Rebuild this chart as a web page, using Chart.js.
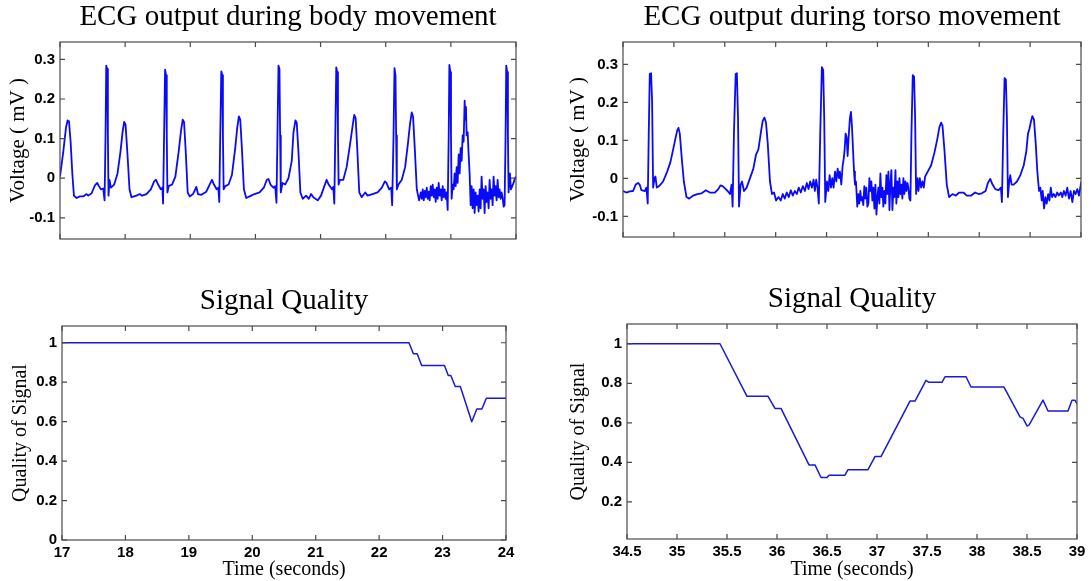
<!DOCTYPE html>
<html>
<head>
<meta charset="utf-8">
<script src="https://cdn.jsdelivr.net/npm/chart.js@4.4.1/dist/chart.umd.min.js"></script>
<style>
  html, body { margin: 0; padding: 0; background: #fff; width: 1091px; height: 581px; overflow: hidden; }
  canvas { position: absolute; }
</style>
</head>
<body>
<canvas id="ecgBody"></canvas>
<canvas id="ecgTorso"></canvas>
<canvas id="qualBody"></canvas>
<canvas id="qualTorso"></canvas>
<script>
// ECG trace recorded during body movement: [time (s), voltage (mV)]
const bodyEcg = [
  [17.000,0.004],[17.051,0.068],[17.092,0.128],[17.117,0.146],[17.138,0.144],[17.163,0.092],[17.189,0.012],[17.214,-0.044],
  [17.255,-0.050],[17.306,-0.046],[17.357,-0.046],[17.408,-0.040],[17.434,-0.044],[17.485,-0.038],[17.536,-0.018],[17.572,-0.012],
  [17.597,-0.020],[17.628,-0.028],[17.664,-0.026],[17.684,-0.056],[17.699,0.108],[17.710,0.284],[17.725,0.276],[17.735,0.108],
  [17.745,-0.044],[17.760,-0.004],[17.781,-0.024],[17.832,-0.016],[17.883,0.012],[17.929,0.068],[17.960,0.116],[17.985,0.142],
  [18.006,0.136],[18.036,0.060],[18.067,-0.028],[18.097,-0.048],[18.174,-0.044],[18.225,-0.040],[18.261,-0.044],[18.327,-0.040],
  [18.394,-0.028],[18.445,-0.008],[18.475,-0.004],[18.506,-0.016],[18.547,-0.028],[18.572,-0.024],[18.582,-0.064],[18.598,0.108],
  [18.613,0.274],[18.628,0.260],[18.639,0.108],[18.649,-0.036],[18.669,-0.020],[18.720,-0.016],[18.771,0.004],[18.822,0.068],
  [18.858,0.120],[18.884,0.148],[18.904,0.142],[18.930,0.068],[18.960,-0.036],[18.991,-0.046],[19.042,-0.040],[19.093,-0.022],
  [19.119,-0.040],[19.170,-0.042],[19.246,-0.034],[19.297,-0.016],[19.333,-0.004],[19.364,-0.016],[19.404,-0.028],[19.430,-0.024],
  [19.445,-0.060],[19.460,0.108],[19.476,0.270],[19.491,0.260],[19.501,0.108],[19.512,-0.028],[19.537,-0.020],[19.588,-0.016],
  [19.639,0.008],[19.690,0.076],[19.721,0.128],[19.746,0.156],[19.767,0.148],[19.792,0.076],[19.823,-0.028],[19.859,-0.050],
  [19.935,-0.044],[19.986,-0.040],[20.063,-0.036],[20.129,-0.024],[20.175,-0.004],[20.201,-0.002],[20.231,-0.016],[20.277,-0.024],
  [20.303,-0.020],[20.323,-0.062],[20.338,0.108],[20.354,0.284],[20.369,0.276],[20.379,0.108],[20.389,-0.036],[20.415,-0.012],
  [20.456,-0.016],[20.507,0.000],[20.558,0.044],[20.584,0.116],[20.614,0.146],[20.634,0.140],[20.660,0.068],[20.690,-0.036],
  [20.726,-0.052],[20.777,-0.044],[20.818,-0.052],[20.854,-0.040],[20.889,-0.048],[20.956,-0.056],[21.007,-0.044],[21.058,-0.020],
  [21.093,-0.004],[21.124,-0.016],[21.175,-0.028],[21.195,-0.022],[21.211,-0.064],[21.226,0.108],[21.241,0.280],[21.256,0.268],
  [21.267,0.108],[21.277,-0.016],[21.297,-0.004],[21.349,-0.004],[21.400,0.028],[21.451,0.084],[21.492,0.132],[21.517,0.160],
  [21.538,0.152],[21.563,0.076],[21.594,-0.036],[21.630,-0.048],[21.686,-0.036],[21.722,-0.044],[21.798,-0.040],[21.875,-0.036],
  [21.941,-0.024],[21.987,-0.008],[22.012,-0.012],[22.053,-0.028],[22.084,-0.024],[22.099,-0.068],[22.120,0.108],[22.135,0.278],
  [22.150,0.260],[22.160,0.108],[22.171,-0.028],[22.196,-0.016],[22.247,-0.004],[22.298,0.028],[22.344,0.092],[22.375,0.140],
  [22.400,0.166],[22.420,0.156],[22.446,0.076],[22.477,-0.028],[22.512,-0.056],[22.538,-0.036],[22.553,-0.052],[22.568,-0.028],
  [22.584,-0.056],[22.599,-0.032],[22.614,-0.048],[22.630,-0.024],[22.645,-0.052],[22.660,-0.034],[22.675,-0.056],[22.691,-0.020],
  [22.706,-0.044],[22.721,-0.016],[22.737,-0.048],[22.752,-0.028],[22.767,-0.060],[22.783,-0.024],[22.798,-0.052],[22.813,-0.012],
  [22.829,-0.044],[22.844,-0.028],[22.859,-0.056],[22.875,-0.020],[22.890,-0.048],[22.905,-0.028],[22.921,-0.052],[22.936,-0.036],
  [22.951,-0.080],[22.967,0.108],[22.977,0.286],[22.992,0.268],[23.002,0.108],[23.012,-0.052],[23.028,-0.016],[23.043,-0.028],
  [23.058,0.012],[23.074,-0.020],[23.089,0.028],[23.104,-0.012],[23.120,0.060],[23.135,0.012],[23.150,0.076],[23.166,0.044],
  [23.181,0.108],[23.196,0.092],[23.212,0.196],[23.222,0.148],[23.232,0.180],[23.242,0.108],[23.258,0.116],[23.273,0.060],
  [23.288,0.012],[23.304,-0.068],[23.319,-0.020],[23.334,-0.076],[23.350,-0.028],[23.365,-0.088],[23.380,-0.036],[23.396,-0.068],
  [23.411,-0.044],[23.426,-0.084],[23.442,-0.028],[23.457,-0.076],[23.472,0.004],[23.488,-0.052],[23.503,-0.028],[23.518,-0.088],
  [23.534,-0.020],[23.549,-0.060],[23.564,-0.036],[23.580,-0.076],[23.595,-0.004],[23.610,-0.052],[23.626,-0.028],[23.641,-0.068],
  [23.656,0.004],[23.672,-0.044],[23.687,-0.020],[23.702,-0.056],[23.718,-0.004],[23.733,-0.048],[23.748,-0.028],[23.764,-0.052],
  [23.779,-0.036],[23.794,-0.048],[23.810,-0.072],[23.825,-0.068],[23.840,0.108],[23.850,0.284],[23.866,0.268],[23.876,0.108],
  [23.886,-0.036],[23.907,0.012],[23.922,-0.028],[23.942,-0.020],[23.963,-0.012],[23.983,0.000],[24.000,0.004]
];

// ECG trace recorded during torso movement: [time (s), voltage (mV)]
const torsoEcg = [
  [34.500,-0.033],[34.533,-0.037],[34.566,-0.034],[34.599,-0.033],[34.625,-0.016],[34.648,-0.012],[34.664,-0.016],[34.681,-0.031],
  [34.714,-0.033],[34.730,-0.024],[34.743,-0.066],[34.753,0.118],[34.763,0.275],[34.776,0.277],[34.786,0.201],[34.796,-0.024],
  [34.810,0.001],[34.819,0.005],[34.832,-0.024],[34.855,-0.020],[34.894,-0.008],[34.934,0.018],[34.966,0.043],[34.986,0.068],
  [35.012,0.101],[35.032,0.126],[35.045,0.133],[35.058,0.118],[35.078,0.051],[35.098,-0.008],[35.124,-0.049],[35.150,-0.053],
  [35.190,-0.045],[35.229,-0.041],[35.272,-0.039],[35.305,-0.033],[35.312,-0.031],[35.354,-0.037],[35.403,-0.037],[35.436,-0.028],
  [35.459,-0.018],[35.479,-0.020],[35.502,-0.026],[35.528,-0.033],[35.551,-0.041],[35.567,-0.016],[35.577,-0.074],[35.590,0.118],
  [35.607,0.275],[35.619,0.277],[35.630,0.160],[35.640,-0.074],[35.656,-0.016],[35.669,-0.008],[35.689,-0.033],[35.715,-0.024],
  [35.748,0.001],[35.781,0.026],[35.807,0.063],[35.830,0.076],[35.853,0.118],[35.872,0.151],[35.889,0.160],[35.905,0.147],
  [35.922,0.093],[35.944,-0.008],[35.964,-0.041],[35.984,-0.037],[36.004,-0.058],[36.027,-0.049],[36.050,-0.058],[36.070,-0.041],
  [36.089,-0.053],[36.109,-0.037],[36.129,-0.049],[36.149,-0.031],[36.168,-0.045],[36.188,-0.033],[36.208,-0.041],[36.227,-0.024],
  [36.247,-0.037],[36.267,-0.020],[36.287,-0.033],[36.306,-0.012],[36.323,-0.028],[36.339,-0.008],[36.356,-0.024],[36.372,-0.003],
  [36.385,-0.033],[36.398,-0.003],[36.411,-0.024],[36.424,-0.066],[36.438,0.118],[36.454,0.293],[36.467,0.285],[36.477,0.160],
  [36.487,-0.062],[36.504,-0.008],[36.517,-0.033],[36.530,0.009],[36.543,-0.024],[36.556,0.001],[36.569,-0.024],[36.583,0.018],
  [36.596,-0.008],[36.609,0.026],[36.622,0.001],[36.631,0.018],[36.645,-0.016],[36.658,0.034],[36.668,0.051],[36.678,0.076],
  [36.687,0.118],[36.697,0.109],[36.707,0.059],[36.717,0.109],[36.730,0.160],[36.740,0.175],[36.750,0.135],[36.760,0.076],
  [36.770,0.018],[36.779,-0.016],[36.789,-0.008],[36.802,-0.074],[36.812,-0.041],[36.822,-0.066],[36.832,-0.033],[36.842,-0.058],
  [36.852,-0.049],[36.861,-0.070],[36.871,-0.020],[36.881,-0.053],[36.891,-0.024],[36.901,-0.074],[36.911,-0.066],[36.921,0.001],
  [36.930,-0.033],[36.940,-0.008],[36.950,-0.058],[36.960,-0.024],[36.970,-0.079],[36.980,-0.016],[36.990,-0.095],[37.000,-0.049],
  [37.009,-0.024],[37.019,-0.066],[37.029,0.013],[37.039,-0.049],[37.049,-0.024],[37.058,-0.074],[37.068,-0.033],[37.078,-0.066],
  [37.088,0.009],[37.098,-0.041],[37.108,0.018],[37.118,-0.083],[37.127,-0.016],[37.137,0.022],[37.147,-0.083],[37.157,-0.024],
  [37.167,-0.049],[37.177,0.022],[37.186,-0.066],[37.196,-0.008],[37.206,-0.049],[37.216,0.001],[37.226,-0.041],[37.236,-0.016],
  [37.245,-0.053],[37.255,0.001],[37.265,-0.041],[37.275,-0.008],[37.285,-0.033],[37.295,-0.012],[37.304,-0.024],[37.314,-0.053],
  [37.324,-0.058],[37.334,0.118],[37.347,0.272],[37.360,0.268],[37.370,0.160],[37.380,-0.041],[37.393,0.001],[37.403,-0.033],
  [37.416,0.001],[37.429,-0.024],[37.442,-0.008],[37.455,-0.024],[37.468,0.005],[37.494,0.018],[37.527,0.034],[37.560,0.068],
  [37.586,0.101],[37.609,0.135],[37.626,0.147],[37.639,0.139],[37.658,0.076],[37.681,-0.016],[37.704,-0.049],[37.737,-0.041],
  [37.770,-0.045],[37.803,-0.037],[37.845,-0.037],[37.878,-0.045],[37.921,-0.045],[37.960,-0.037],[37.993,-0.041],[38.026,-0.039],
  [38.063,-0.033],[38.085,-0.012],[38.108,-0.001],[38.131,-0.016],[38.158,-0.028],[38.190,-0.031],[38.213,-0.024],[38.223,-0.062],
  [38.236,0.118],[38.249,0.264],[38.262,0.260],[38.272,0.160],[38.282,-0.049],[38.295,-0.008],[38.305,0.009],[38.318,-0.016],
  [38.338,-0.016],[38.371,-0.008],[38.404,0.009],[38.437,0.034],[38.463,0.072],[38.479,0.118],[38.493,0.130],[38.506,0.147],
  [38.522,0.164],[38.538,0.155],[38.555,0.093],[38.571,0.018],[38.588,-0.033],[38.601,-0.024],[38.614,-0.058],[38.624,-0.033],
  [38.637,-0.079],[38.650,-0.049],[38.663,-0.066],[38.677,-0.041],[38.690,-0.058],[38.703,-0.024],[38.716,-0.049],[38.733,-0.041],
  [38.749,-0.049],[38.766,-0.037],[38.782,-0.045],[38.802,-0.037],[38.816,-0.049],[38.832,-0.033],[38.849,-0.045],[38.865,-0.024],
  [38.882,-0.053],[38.898,-0.033],[38.915,-0.062],[38.931,-0.033],[38.947,-0.041],[38.964,-0.028],[38.980,-0.045],[38.993,-0.024],
  [39.003,-0.008]
];

// Signal quality index over time: [time (s), quality]
const bodyQuality = [
  [17.00,1.000],[22.47,1.000],[22.54,0.944],[22.60,0.944],[22.67,0.885],[23.03,0.885],[23.09,0.834],[23.13,0.834],
  [23.20,0.778],[23.28,0.778],[23.46,0.600],[23.54,0.664],[23.62,0.664],[23.69,0.719],[24.00,0.719]
];
const torsoQuality = [
  [34.50,1.000],[35.43,1.000],[35.70,0.734],[35.91,0.734],[35.98,0.673],[36.04,0.673],[36.32,0.387],[36.38,0.387],
  [36.44,0.323],[36.50,0.323],[36.52,0.335],[36.68,0.335],[36.71,0.363],[36.91,0.363],[36.98,0.429],[37.04,0.429],
  [37.33,0.710],[37.38,0.710],[37.49,0.815],[37.52,0.805],[37.65,0.805],[37.68,0.833],[37.89,0.833],[37.94,0.781],
  [38.27,0.781],[38.43,0.630],[38.46,0.622],[38.50,0.584],[38.52,0.588],[38.66,0.715],[38.71,0.660],[38.91,0.660],
  [38.95,0.714],[38.98,0.714],[39.00,0.697]
];

// Tick values and their labels
const bodyTimeTicks   = [17, 18, 19, 20, 21, 22, 23, 24];
const bodyTimeLabels  = ['17', '18', '19', '20', '21', '22', '23', '24'];
const torsoTimeTicks  = [34.5, 35, 35.5, 36, 36.5, 37, 37.5, 38, 38.5, 39];
const torsoTimeLabels = ['34.5', '35', '35.5', '36', '36.5', '37', '37.5', '38', '38.5', '39'];
const voltTicks       = [-0.1, 0, 0.1, 0.2, 0.3];
const voltLabels      = ['-0.1', '0', '0.1', '0.2', '0.3'];
const bodyQualTicks   = [0, 0.2, 0.4, 0.6, 0.8, 1];
const bodyQualLabels  = ['0', '0.2', '0.4', '0.6', '0.8', '1'];
const torsoQualTicks  = [0.2, 0.4, 0.6, 0.8, 1];
const torsoQualLabels = ['0.2', '0.4', '0.6', '0.8', '1'];

const SERIF = "'Liberation Serif', 'Times New Roman', serif";
const SANS = "'Liberation Sans', Arial, sans-serif";
const FRAME = '#4a4a4a';

// Boxed axes with short inward tick marks on all four sides
const framePlugin = {
  id: 'frame',
  afterDatasetsDraw(chart) {
    const { ctx, chartArea: a, scales: { x, y } } = chart;
    const len = 5;
    ctx.save();
    ctx.strokeStyle = FRAME;
    ctx.lineWidth = 1.2;
    ctx.strokeRect(a.left, a.top, a.right - a.left, a.bottom - a.top);
    ctx.beginPath();
    x.ticks.forEach(t => {
      const px = x.getPixelForValue(t.value);
      ctx.moveTo(px, a.bottom); ctx.lineTo(px, a.bottom - len);
      ctx.moveTo(px, a.top); ctx.lineTo(px, a.top + len);
    });
    y.ticks.forEach(t => {
      const py = y.getPixelForValue(t.value);
      ctx.moveTo(a.left, py); ctx.lineTo(a.left + len, py);
      ctx.moveTo(a.right, py); ctx.lineTo(a.right - len, py);
    });
    ctx.stroke();
    ctx.restore();
  }
};

function panel(p) {
  const cv = document.getElementById(p.id);
  cv.width = p.box.w; cv.height = p.box.h;
  cv.style.left = p.box.x + 'px'; cv.style.top = p.box.y + 'px';
  cv.style.width = p.box.w + 'px'; cv.style.height = p.box.h + 'px';
  const tickFont = { family: SANS, size: 15, weight: 'bold' };
  const labelFont = { family: SERIF, size: p.yTitleSize || 20, weight: 'normal', lineHeight: 1 };
  const xLabelFont = { family: SERIF, size: 20, weight: 'normal', lineHeight: 1 };
  return new Chart(cv, {
    type: 'line',
    data: {
      datasets: [{
        data: p.points.map(([t, v]) => ({ x: t, y: v })),
        borderColor: p.color,
        borderWidth: p.lineWidth,
        pointRadius: 0,
        tension: 0,
        fill: false,
        borderJoinStyle: 'round'
      }]
    },
    options: {
      responsive: false,
      animation: false,
      devicePixelRatio: 1,
      events: [],
      layout: { padding: { left: 0, top: 0, right: p.rightPad, bottom: 0 } },
      plugins: {
        legend: { display: false },
        tooltip: { enabled: false },
        title: {
          display: true,
          text: p.title,
          fullSize: false,
          color: '#000',
          font: { family: SERIF, size: 29, weight: 'normal', lineHeight: 1 },
          padding: { top: 1, bottom: 10 }
        }
      },
      scales: {
        x: {
          type: 'linear',
          min: p.xMin, max: p.xMax,
          afterBuildTicks: s => { s.ticks = p.xTicks.map(v => ({ value: v })); },
          afterFit: s => { s.height = p.xH; },
          grid: { display: false, drawTicks: false },
          border: { display: false },
          ticks: {
            display: p.showX,
            color: '#000',
            font: tickFont,
            padding: 4,
            maxRotation: 0,
            autoSkip: false,
            callback: (v, i) => p.xLabels[i]
          },
          title: {
            display: !!p.xTitle,
            text: p.xTitle || '',
            color: '#000',
            font: xLabelFont,
            padding: { top: 0, bottom: 1 }
          }
        },
        y: {
          type: 'linear',
          min: p.yMin, max: p.yMax,
          afterBuildTicks: s => { s.ticks = p.yTicks.map(v => ({ value: v })); },
          afterFit: s => { s.width = 60; },
          grid: { display: false, drawTicks: false },
          border: { display: false },
          ticks: {
            color: '#000',
            font: tickFont,
            padding: 5,
            autoSkip: false,
            callback: (v, i) => p.yLabels[i]
          },
          title: {
            display: true,
            text: p.yTitle,
            color: '#000',
            font: labelFont,
            padding: { top: p.yTitlePad, bottom: 0 }
          }
        }
      }
    },
    plugins: [framePlugin]
  });
}

const ECG_BLUE = 'rgb(10,10,250)';
const QUAL_BLUE = 'rgb(25,25,215)';

panel({
  id: 'ecgBody', box: { x: 0, y: 2, w: 524, h: 251 }, rightPad: 8, xH: 4,
  title: 'ECG output during body movement', points: bodyEcg, color: ECG_BLUE, lineWidth: 1.8,
  xMin: 17, xMax: 24, xTicks: bodyTimeTicks, xLabels: bodyTimeLabels, showX: false,
  yMin: -0.1535, yMax: 0.344, yTicks: voltTicks, yLabels: voltLabels,
  yTitle: 'Voltage ( mV )', yTitleSize: 21, yTitlePad: 8
});

panel({
  id: 'ecgTorso', box: { x: 563, y: 2, w: 526, h: 249 }, rightPad: 8, xH: 4,
  title: 'ECG output during torso movement', points: torsoEcg, color: ECG_BLUE, lineWidth: 1.8,
  xMin: 34.5, xMax: 39, xTicks: torsoTimeTicks, xLabels: torsoTimeLabels, showX: false,
  yMin: -0.154, yMax: 0.359, yTicks: voltTicks, yLabels: voltLabels,
  yTitle: 'Voltage ( mV )', yTitleSize: 21, yTitlePad: 5
});

panel({
  id: 'qualBody', box: { x: 2, y: 286, w: 518, h: 295 }, rightPad: 14, xH: 41,
  title: 'Signal Quality', points: bodyQuality, color: QUAL_BLUE, lineWidth: 1.5,
  xMin: 17, xMax: 24, xTicks: bodyTimeTicks, xLabels: bodyTimeLabels, showX: true,
  xTitle: 'Time (seconds)',
  yMin: 0, yMax: 1.085, yTicks: bodyQualTicks, yLabels: bodyQualLabels,
  yTitle: 'Quality of Signal', yTitlePad: 9
});

panel({
  id: 'qualTorso', box: { x: 567, y: 284, w: 524, h: 297 }, rightPad: 14, xH: 42,
  title: 'Signal Quality', points: torsoQuality, color: QUAL_BLUE, lineWidth: 1.5,
  xMin: 34.5, xMax: 39, xTicks: torsoTimeTicks, xLabels: torsoTimeLabels, showX: true,
  xTitle: 'Time (seconds)',
  yMin: 0.012, yMax: 1.1, yTicks: torsoQualTicks, yLabels: torsoQualLabels,
  yTitle: 'Quality of Signal', yTitlePad: 2
});
</script>
</body>
</html>
